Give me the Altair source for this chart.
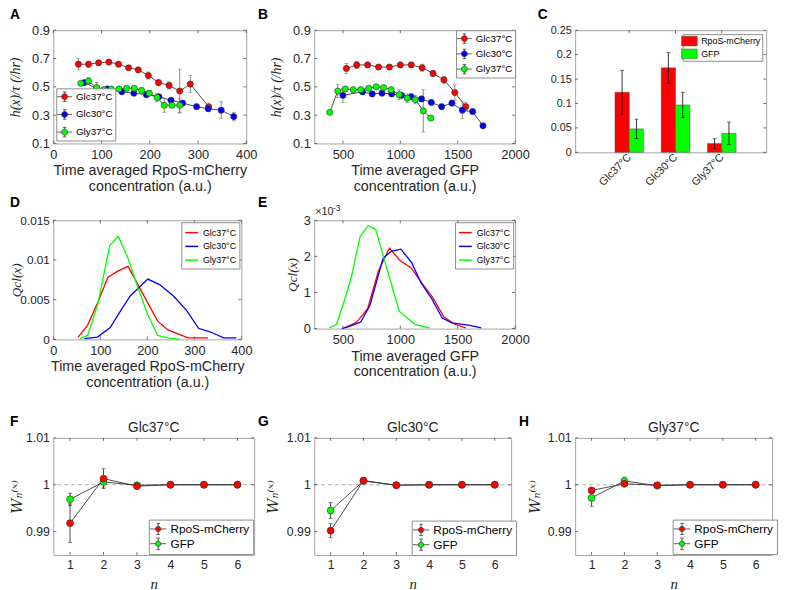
import math
import altair as alt
import pandas as pd

SANS = "Liberation Sans"
SERIF = "Liberation Serif"
INK = "#262626"
FRAME = "#a3a3a3"
TICK = "#4d4d4d"
LINE = "#3a3a3a"
ERR = "#7a7a7a"
RED, BLUE, GREEN = "#ff0000", "#0000ff", "#00ff00"

CONDITIONS = ["Glc37°C", "Glc30°C", "Gly37°C"]
COND_COLORS = [RED, BLUE, GREEN]
REPORTERS = ["RpoS-mCherry", "GFP"]
REP_COLORS = [RED, GREEN]

# ---------------- Panel A : h(x)/tau vs RpoS-mCherry ----------------
a_glc37_x = [52, 73, 94, 115, 135, 156, 176, 197, 218, 240, 262, 284, 322]
a_glc37_y = [0.66, 0.66, 0.67, 0.675, 0.66, 0.635, 0.62, 0.58, 0.53, 0.51, 0.47, 0.52, 0.36]
a_glc37_e = [0.04, 0.02, 0.015, 0.012, 0.012, 0.012, 0.015, 0.025, 0.02, 0.025, 0.155, 0.06, 0.015]
a_glc30_x = [64, 90, 112, 142, 167, 193, 219, 244, 268, 297, 321, 348, 374]
a_glc30_y = [0.53, 0.49, 0.485, 0.465, 0.455, 0.445, 0.43, 0.405, 0.385, 0.36, 0.345, 0.335, 0.29]
a_glc30_e = [0.01, 0.01, 0.01, 0.01, 0.012, 0.01, 0.012, 0.01, 0.01, 0.01, 0.015, 0.06, 0.03]
a_gly37_x = [57, 73, 90, 105, 120, 136, 152, 168, 183, 199, 215, 230, 246, 262]
a_gly37_y = [0.525, 0.54, 0.495, 0.48, 0.485, 0.485, 0.49, 0.49, 0.475, 0.455, 0.425, 0.37, 0.37, 0.37]
a_gly37_e = [0.012, 0.025, 0.035, 0.008, 0.008, 0.008, 0.008, 0.008, 0.01, 0.012, 0.03, 0.05, 0.01, 0.05]

# ---------------- Panel B : h(x)/tau vs GFP ----------------
b_glc37_x = [530, 620, 715, 810, 905, 1000, 1095, 1190, 1285, 1380, 1475, 1570]
b_glc37_y = [0.63, 0.655, 0.655, 0.64, 0.64, 0.655, 0.655, 0.635, 0.595, 0.55, 0.46, 0.36]
b_glc37_e = [0.035, 0.025, 0.015, 0.012, 0.012, 0.012, 0.012, 0.025, 0.02, 0.025, 0.055, 0.03]
b_glc30_x = [500, 670, 755, 840, 925, 1010, 1095, 1185, 1270, 1360, 1450, 1540, 1630, 1720]
b_glc30_y = [0.44, 0.465, 0.45, 0.455, 0.45, 0.44, 0.43, 0.415, 0.39, 0.36, 0.385, 0.335, 0.325, 0.225]
b_glc30_e = [0.05, 0.01, 0.01, 0.01, 0.015, 0.01, 0.02, 0.01, 0.01, 0.015, 0.02, 0.06, 0.02, 0.01]
b_gly37_x = [385, 455, 520, 590, 655, 725, 790, 855, 920, 990, 1060, 1130, 1200, 1265]
b_gly37_y = [0.32, 0.47, 0.485, 0.48, 0.48, 0.49, 0.5, 0.495, 0.48, 0.445, 0.42, 0.41, 0.33, 0.28]
b_gly37_e = [0.01, 0.045, 0.01, 0.01, 0.01, 0.01, 0.01, 0.01, 0.015, 0.035, 0.03, 0.03, 0.15, 0.01]

# ---------------- Panel C : bars ----------------
c_rpos = [0.123, 0.173, 0.018]
c_rpos_err = [0.045, 0.031, 0.010]
c_gfp = [0.048, 0.097, 0.039]
c_gfp_err = [0.020, 0.026, 0.023]

# ---------------- Panel D : Q_cl(x) vs RpoS-mCherry ----------------
d_glc37_x = [53, 73, 95, 116, 137, 159, 180, 201, 222, 244, 265, 287, 329]
d_glc37_q = [0.0003, 0.0018, 0.0047, 0.0078, 0.0086, 0.0092, 0.0069, 0.0046, 0.0023, 0.0012, 0.0007, 0.0002, 0.0002]
d_glc30_x = [66, 94, 121, 143, 164, 201, 226, 255, 283, 309, 336, 362, 389]
d_glc30_q = [0.0001, 0.0003, 0.0015, 0.0036, 0.0055, 0.0076, 0.0069, 0.0055, 0.0037, 0.0014, 0.0009, 0.0002, 0.0002]
d_gly37_x = [57, 73, 95, 120, 138, 159, 180, 201, 222, 243, 269]
d_gly37_q = [0.0001, 0.0005, 0.0045, 0.0118, 0.013, 0.0102, 0.0065, 0.0031, 0.0005, 0.0002, 0.0]

# ---------------- Panel E : Q_cl(x) vs GFP (values x 1e-3) ----------------
e_glc37_x = [520, 620, 715, 810, 905, 1000, 1095, 1190, 1285, 1380, 1475, 1570]
e_glc37_q = [0.02, 0.18, 0.55, 1.6, 2.23, 1.88, 1.68, 1.25, 0.85, 0.32, 0.12, 0.02]
e_glc30_x = [490, 580, 655, 735, 850, 920, 1005, 1100, 1180, 1275, 1365, 1450, 1605, 1705]
e_glc30_q = [0.0, 0.09, 0.18, 0.64, 1.95, 2.14, 2.2, 1.82, 1.27, 0.82, 0.29, 0.16, 0.09, 0.02]
e_gly37_x = [380, 445, 510, 575, 650, 720, 785, 990, 1130, 1255]
e_gly37_q = [0.02, 0.12, 0.75, 1.45, 2.55, 2.85, 2.75, 0.48, 0.11, 0.02]

# ---------------- Panels F, G, H : W_n ----------------
n_vals = [1, 2, 3, 4, 5, 6]
f_rpos = [0.9918, 1.0013, 0.9997, 1.0, 1.0, 1.0]
f_rpos_err = [0.0041, 0.0021, 0.0004, 0.0001, 0.0001, 0.0001]
f_gfp = [0.9969, 1.0006, 0.9999, 1.0, 1.0, 1.0]
f_gfp_err = [0.0013, 0.0011, 0.0003, 0.0001, 0.0001, 0.0001]
g_rpos = [0.9902, 1.0009, 0.9999, 1.0, 1.0, 1.0]
g_rpos_err = [0.0015, 0.0002, 0.0002, 0.0001, 0.0001, 0.0001]
g_gfp = [0.9945, 1.0008, 0.9999, 1.0, 1.0, 1.0]
g_gfp_err = [0.0017, 0.0002, 0.0002, 0.0001, 0.0001, 0.0001]
h_rpos = [0.9988, 1.0002, 0.9999, 1.0, 1.0, 1.0]
h_rpos_err = [0.0004, 0.0002, 0.0002, 0.0001, 0.0001, 0.0001]
h_gfp = [0.9972, 1.0008, 0.9998, 1.0, 1.0, 1.0]
h_gfp_err = [0.0018, 0.0008, 0.0002, 0.0001, 0.0001, 0.0001]

RATE_TICKS = [0.1, 0.3, 0.5, 0.7, 0.9]
RPOS_TICKS = [0, 100, 200, 300, 400]
GFP_TICKS = [500, 1000, 1500, 2000]
TITLE_RPOS = ["Time averaged RpoS-mCherry", "concentration (a.u.)"]
TITLE_GFP = ["Time averaged GFP", "concentration (a.u.)"]

PLAIN = "'' + datum.value"


# ---------------- helpers ----------------
def poly_circle(r, n=20):
    pts = ["%.3f,%.3f" % (r * math.cos(2 * math.pi * k / n), r * math.sin(2 * math.pi * k / n)) for k in range(n)]
    return "M" + "L".join(pts) + "Z"


def errbar_glyph(half, mr, bar, cap):
    return ("M%.2f,0H%.2fM%.2f,0H%.2f" % (-half, -mr, mr, half)
            + "M0,%.2fV%.2fM0,%.2fV%.2f" % (-bar, -mr, mr, bar)
            + "M%.2f,%.2fH%.2fM%.2f,%.2fH%.2f" % (-cap, -bar, cap, -cap, bar, cap)
            + poly_circle(mr))


GLYPH_RATE = errbar_glyph(1.25, 0.5, 0.8, 0.3)
GLYPH_W = errbar_glyph(1.4, 0.45, 0.95, 0.3)
GLYPH_RECT = "M-1.45,-0.9H1.45V0.9H-1.45Z"

LEG = dict(title=None, fillColor="white", strokeColor="#8c8c8c", labelFont=SANS,
           labelColor="#000000", cornerRadius=0, symbolOpacity=1)


def x_axis(values, title, label_size=13, title_size=14.5, title_font=SANS, style="normal",
           label_pad=5, title_pad=3):
    return alt.Axis(values=values, labelExpr=PLAIN, title=title, labelFlush=False, labelOverlap=False,
                    labelFontSize=label_size, titleFontSize=title_size, titleFont=title_font,
                    titleFontStyle=style, titleFontWeight="normal", labelPadding=label_pad,
                    titlePadding=title_pad, titleLineHeight=16, ticks=False, domain=False, grid=False)


def y_axis(values, title, title_x, height, label_size=13, title_size=14, font=SERIF):
    return alt.Axis(values=values, labelExpr=PLAIN, title=title, titleFont=font, titleFontStyle="italic",
                    titleFontWeight="normal", titleX=title_x, titleY=height / 2, titleBaseline="middle",
                    titleAngle=270, titleAlign="center", labelFontSize=label_size,
                    titleFontSize=title_size, labelPadding=4, ticks=False, domain=False, grid=False,
                    labelFlush=False, labelOverlap=False)


def frame_ticks(xvals, yvals, xscale, yscale, xax, yax, w, h, L=3):
    tx = alt.Chart(pd.DataFrame({"tv": xvals}))
    ty = alt.Chart(pd.DataFrame({"tv": yvals}))
    X = alt.X("tv:Q", scale=xscale, axis=xax)
    Y = alt.Y("tv:Q", scale=yscale, axis=yax)
    st = dict(color=TICK, strokeWidth=0.8)
    out = []
    if xvals:
        out.append(tx.mark_rule(**st).encode(x=X, y=alt.value(h), y2=alt.value(h - L)))
        out.append(tx.mark_rule(**st).encode(x=X, y=alt.value(0), y2=alt.value(L)))
    out.append(ty.mark_rule(**st).encode(y=Y, x=alt.value(0), x2=alt.value(L)))
    out.append(ty.mark_rule(**st).encode(y=Y, x=alt.value(w), x2=alt.value(w - L)))
    return out


def label_text(txt, dx, dy, size=14, weight="bold", align="left"):
    # dy is the vertical centre of the text, relative to the top of the plot area
    return alt.Chart(pd.DataFrame({"t": [txt]})).mark_text(
        font=SANS, fontSize=size, fontWeight=weight, align=align, baseline="middle",
        color="black" if weight == "bold" else INK
    ).encode(text="t:N", x=alt.value(dx), y=alt.value(dy))


def err_frame(names, xs_list, ys_list, es_list):
    rows = []
    for name, xs, ys, es in zip(names, xs_list, ys_list, es_list):
        for i, (xv, yv, ev) in enumerate(zip(xs, ys, es)):
            rows.append({"s": name, "x": xv, "y": yv, "lo": yv - ev, "hi": yv + ev, "i": i})
    return pd.DataFrame(rows)


def rate_panel(df, xdom, xticks, w, h, xtitle, ytitle_x, legend, ch, lx, ly):
    xs = alt.Scale(domain=xdom, nice=False, zero=False)
    ys = alt.Scale(domain=[0.1, 0.9], nice=False, zero=False)
    xax = x_axis(xticks, xtitle)
    yax = y_axis(RATE_TICKS, "h(x)/τ (/hr)", ytitle_x, h)
    X = alt.X("x:Q", scale=xs, axis=xax)
    base = alt.Chart(df)
    layers = [
        base.mark_line(color=LINE, strokeWidth=0.9).encode(
            x=X, y=alt.Y("y:Q", scale=ys, axis=yax), detail="s:N", order="i:Q"),
        base.mark_rule(color=ERR, strokeWidth=0.9).encode(
            x=X, y=alt.Y("lo:Q", scale=ys, axis=yax), y2="hi:Q"),
        base.mark_tick(orient="horizontal", size=4, thickness=0.9, color=ERR).encode(
            x=X, y=alt.Y("lo:Q", scale=ys, axis=yax)),
        base.mark_tick(orient="horizontal", size=4, thickness=0.9, color=ERR).encode(
            x=X, y=alt.Y("hi:Q", scale=ys, axis=yax)),
        base.mark_circle(size=40, opacity=1, stroke="#333333", strokeWidth=0.6).encode(
            x=X, y=alt.Y("y:Q", scale=ys, axis=yax),
            fill=alt.Fill("s:N", scale=alt.Scale(domain=CONDITIONS, range=COND_COLORS), legend=legend)),
    ]
    layers += frame_ticks(xticks, RATE_TICKS, xs, ys, xax, yax, w, h)
    layers.append(label_text(ch, lx, ly))
    return alt.layer(*layers).properties(width=w, height=h)


def dist_panel(df, xdom, xticks, ydom, yticks, w, h, xtitle, ytitle_x, legend, ch, lx, ly,
               label_size=13, extra=None):
    xs = alt.Scale(domain=xdom, nice=False, zero=False)
    ys = alt.Scale(domain=ydom, nice=False, zero=False)
    xax = x_axis(xticks, xtitle)
    yax = y_axis(yticks, "Qcl(x)", ytitle_x, h, label_size=label_size, title_size=13.5)
    X = alt.X("x:Q", scale=xs, axis=xax)
    Y = alt.Y("y:Q", scale=ys, axis=yax)
    layers = [alt.Chart(df).mark_line(strokeWidth=1.3).encode(
        x=X, y=Y, order="i:Q",
        color=alt.Color("s:N", scale=alt.Scale(domain=CONDITIONS, range=COND_COLORS), legend=legend))]
    layers += frame_ticks(xticks, yticks, xs, ys, xax, yax, w, h)
    layers.append(label_text(ch, lx, ly))
    if extra:
        layers += extra
    return alt.layer(*layers).properties(width=w, height=h)


def w_panel(title, rpos, rpos_e, gfp, gfp_e, w, h, ytitle_x, lx_leg, ly_leg, ch, lx, ly):
    df = err_frame(["GFP", "RpoS-mCherry"], [n_vals, n_vals], [gfp, rpos], [gfp_e, rpos_e])
    xs = alt.Scale(domain=[0.5, 6.5], nice=False, zero=False)
    ys = alt.Scale(domain=[0.985, 1.01], nice=False, zero=False)
    yticks = [0.99, 1.0, 1.01]
    xax = x_axis(n_vals, "n", label_size=12.5, title_size=15, title_font=SERIF, style="italic",
                 label_pad=4, title_pad=5)
    yax = y_axis(yticks, "Wₙ⁽ˣ⁾", ytitle_x, h, label_size=12.5, title_size=15, font="DejaVu Serif")
    X = alt.X("x:Q", scale=xs, axis=xax)
    base = alt.Chart(df)
    legend = alt.Legend(orient="none", legendX=lx_leg, legendY=ly_leg, symbolType=GLYPH_W,
                        symbolSize=144, symbolStrokeColor="#333333", symbolStrokeWidth=0.8,
                        labelFontSize=12, labelOffset=6, padding=3, rowPadding=0, **LEG)
    layers = [
        alt.Chart(pd.DataFrame({"ref": [1.0]})).mark_rule(color="#9a9a9a", strokeDash=[4, 3], strokeWidth=0.8)
        .encode(y=alt.Y("ref:Q", scale=ys, axis=yax)),
        base.mark_line(color="#333333", strokeWidth=0.9).encode(
            x=X, y=alt.Y("y:Q", scale=ys, axis=yax), detail="s:N", order="i:Q"),
        base.mark_rule(color="#333333", strokeWidth=0.9).encode(
            x=X, y=alt.Y("lo:Q", scale=ys, axis=yax), y2="hi:Q"),
        base.mark_tick(orient="horizontal", size=4, thickness=0.9, color="#333333").encode(
            x=X, y=alt.Y("lo:Q", scale=ys, axis=yax)),
        base.mark_tick(orient="horizontal", size=4, thickness=0.9, color="#333333").encode(
            x=X, y=alt.Y("hi:Q", scale=ys, axis=yax)),
        base.mark_circle(size=50, opacity=1, stroke="#333333", strokeWidth=0.6).encode(
            x=X, y=alt.Y("y:Q", scale=ys, axis=yax),
            fill=alt.Fill("s:N", scale=alt.Scale(domain=REPORTERS, range=REP_COLORS), legend=legend)),
    ]
    layers += frame_ticks(n_vals, yticks, xs, ys, xax, yax, w, h)
    layers.append(label_text(ch, lx, ly))
    layers.append(label_text(title, w / 2, -10, size=14, weight="normal", align="center"))
    return alt.layer(*layers).properties(width=w, height=h)


# ---------------- build panels ----------------
H1, H2E, H2D, H3 = 115, 110, 121, 119

dfA = err_frame(CONDITIONS, [a_glc37_x, a_glc30_x, a_gly37_x], [a_glc37_y, a_glc30_y, a_gly37_y],
                [a_glc37_e, a_glc30_e, a_gly37_e])
legA = alt.Legend(orient="bottom-left", offset=3, symbolType=GLYPH_RATE, symbolSize=144,
                  symbolStrokeColor=LINE, symbolStrokeWidth=0.8, labelFontSize=10, labelOffset=5,
                  padding=2, rowPadding=5, **LEG)
panelA = rate_panel(dfA, [0, 400], RPOS_TICKS, 196, H1, TITLE_RPOS, -38, legA, "A", -44, -15)

dfB = err_frame(CONDITIONS, [b_glc37_x, b_glc30_x, b_gly37_x], [b_glc37_y, b_glc30_y, b_gly37_y],
                [b_glc37_e, b_glc30_e, b_gly37_e])
legB = alt.Legend(orient="top-right", offset=0, symbolType=GLYPH_RATE, symbolSize=144,
                  symbolStrokeColor=LINE, symbolStrokeWidth=0.8, labelFontSize=10, labelOffset=5,
                  padding=2, rowPadding=2.5, **LEG)
panelB = rate_panel(dfB, [250, 2000], GFP_TICKS, 204, H1, TITLE_GFP, -38, legB, "B", -57, -15)

# Panel C
rows_c = []
for k, cond in enumerate(CONDITIONS):
    rows_c.append({"rep": REPORTERS[0], "cond": cond, "pos": k + 1, "val": c_rpos[k], "err": c_rpos_err[k]})
    rows_c.append({"rep": REPORTERS[1], "cond": cond, "pos": k + 1, "val": c_gfp[k], "err": c_gfp_err[k]})
dfC = pd.DataFrame(rows_c)
C_W, C_H = 194, 124
c_xs = alt.Scale(domain=[-0.17, 3.96], nice=False, zero=False)
c_ys = alt.Scale(domain=[0, 0.25], nice=False, zero=False)
c_label_expr = "[" + ",".join("'%s'" % c for c in CONDITIONS) + "][datum.value - 1]"
c_xax = alt.Axis(values=[1, 2, 3], labelExpr=c_label_expr, title=None, labelAngle=315, labelAlign="right",
                 labelBaseline="middle", labelFontSize=11, labelPadding=3, ticks=False, domain=False,
                 grid=False, labelFlush=False, labelOverlap=False)
c_yticks = [0, 0.05, 0.1, 0.15, 0.2, 0.25]
c_yax = alt.Axis(values=c_yticks, labelExpr=PLAIN, title=None, labelFontSize=11, labelPadding=4, ticks=False,
                 domain=False, grid=False, labelFlush=False, labelOverlap=False)
baseC = alt.Chart(dfC).transform_calculate(
    x0="datum.pos + (datum.rep == 'GFP' ? 0 : -0.31)",
    x1="datum.pos + (datum.rep == 'GFP' ? 0.31 : 0)",
).transform_calculate(
    xc="(datum.x0 + datum.x1) / 2", lo="datum.val - datum.err", hi="datum.val + datum.err"
)
legC = alt.Legend(orient="top-right", offset=4, symbolType=GLYPH_RECT, symbolSize=121,
                  symbolStrokeColor="#555555", symbolStrokeWidth=0.5, labelFontSize=9, labelOffset=6,
                  padding=1, rowPadding=1, **LEG)
CX = alt.X("xc:Q", scale=c_xs, axis=c_xax)
layersC = [
    baseC.mark_bar(stroke="#555555", strokeWidth=0.5).encode(
        x=alt.X("x0:Q", scale=c_xs, axis=c_xax), x2="x1:Q",
        y=alt.Y("val:Q", scale=c_ys, axis=c_yax), y2=alt.datum(0),
        fill=alt.Fill("rep:N", scale=alt.Scale(domain=REPORTERS, range=REP_COLORS), legend=legC)),
    baseC.mark_rule(color="#000000", strokeWidth=0.8).encode(
        x=CX, y=alt.Y("lo:Q", scale=c_ys, axis=c_yax), y2="hi:Q"),
    baseC.mark_tick(orient="horizontal", size=4, thickness=0.8, color="#000000").encode(
        x=CX, y=alt.Y("lo:Q", scale=c_ys, axis=c_yax)),
    baseC.mark_tick(orient="horizontal", size=4, thickness=0.8, color="#000000").encode(
        x=CX, y=alt.Y("hi:Q", scale=c_ys, axis=c_yax)),
]
layersC += frame_ticks([1, 2, 3], c_yticks, c_xs, c_ys, c_xax, c_yax, C_W, C_H)
layersC.append(label_text("C", -38, -15))
panelC = alt.layer(*layersC).properties(width=C_W, height=C_H)

# Panel D
dfD = err_frame(CONDITIONS, [d_glc37_x, d_glc30_x, d_gly37_x], [d_glc37_q, d_glc30_q, d_gly37_q],
                [[0] * len(d_glc37_x), [0] * len(d_glc30_x), [0] * len(d_gly37_x)])
legD = alt.Legend(orient="top-right", offset=2, symbolType="stroke", symbolSize=169, symbolStrokeWidth=1.5,
                  labelFontSize=9, labelOffset=4, padding=3, rowPadding=1, **LEG)
panelD = dist_panel(dfD, [0, 400], RPOS_TICKS, [0, 0.015], [0, 0.005, 0.01, 0.015], 191, H2D, TITLE_RPOS,
                    -37, legD, "D", -44, -17, label_size=12)

# Panel E
dfE = err_frame(CONDITIONS, [e_glc37_x, e_glc30_x, e_gly37_x], [e_glc37_q, e_glc30_q, e_gly37_q],
                [[0] * len(e_glc37_x), [0] * len(e_glc30_x), [0] * len(e_gly37_x)])
legE = alt.Legend(orient="top-right", offset=2, symbolType="stroke", symbolSize=169, symbolStrokeWidth=1.5,
                  labelFontSize=9, labelOffset=4, padding=3, rowPadding=1, **LEG)
exp_text = [
    label_text("×10", 1, -8, size=11, weight="normal"),
    label_text("-3", 19, -12, size=8.5, weight="normal"),
]
panelE = dist_panel(dfE, [250, 2000], GFP_TICKS, [0, 3], [0, 1, 2, 3], 204, H2E, TITLE_GFP,
                    -22, legE, "E", -57, -17, extra=exp_text)

# placeholder keeping the grid rows aligned
blank = alt.Chart(pd.DataFrame({"v": [0]})).mark_point(opacity=0).encode(
    x=alt.X("v:Q", axis=None), y=alt.Y("v:Q", axis=None)
).properties(width=10, height=152, view=alt.ViewBackground(stroke="transparent", strokeWidth=0))

panelF = w_panel("Glc37°C", f_rpos, f_rpos_err, f_gfp, f_gfp_err, 204, H3, -37, 97, 83, "F", -44, -16)
panelG = w_panel("Glc30°C", g_rpos, g_rpos_err, g_gfp, g_gfp_err, 200, H3, -42, 99, 84, "G", -57, -16)
panelH = w_panel("Gly37°C", h_rpos, h_rpos_err, h_gfp, h_gfp_err, 200, H3, -41, 99, 83, "H", -57, -16)

chart = alt.concat(
    panelA, panelB, panelC, panelD, panelE, blank, panelF, panelG, panelH,
    columns=3, spacing={"row": 69, "column": 61}, bounds="flush", align="each",
).resolve_scale(
    x="independent", y="independent", fill="independent", color="independent"
).resolve_legend(
    fill="independent", color="independent"
).properties(
    padding={"top": -5, "left": 0, "right": 0, "bottom": 0}, background="white"
).configure(
    font=SANS
).configure_view(
    stroke=FRAME, strokeWidth=1
).configure_axis(
    labelFont=SANS, labelColor=INK, titleColor=INK
).configure_legend(
    labelFont=SANS
)

chart.save("out.html", embed_options={"renderer": "svg", "actions": False})
